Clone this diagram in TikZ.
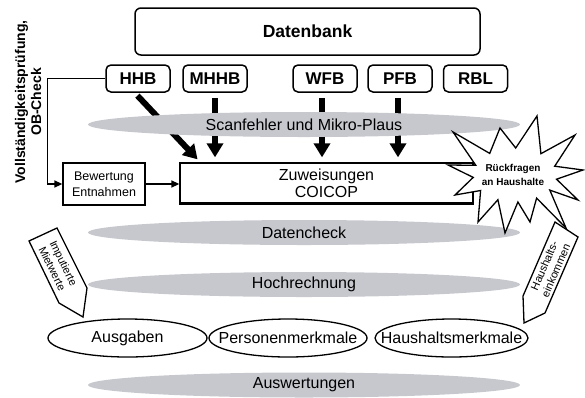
\documentclass[tikz,border=0pt]{standalone}
\usepackage{fontspec}
\setmainfont{Liberation Sans}
\usetikzlibrary{arrows.meta,shapes.geometric,calc}
\definecolor{bandgray}{RGB}{199,200,206}
\begin{document}
\begin{tikzpicture}[x=1pt,y=-1pt,
  rbox/.style={draw, line width=1.5pt, rounded corners=5pt, fill=white, inner sep=0pt,
    minimum width=64pt, minimum height=27pt, font=\fontsize{17}{20}\selectfont\bfseries},
  band/.style={ellipse, fill=bandgray, inner sep=0pt, minimum width=432pt, minimum height=25pt,
    font=\fontsize{16}{19}\selectfont},
  oval/.style={ellipse, draw, line width=1.3pt, fill=white, inner sep=0pt, minimum height=38pt,
    font=\fontsize{16}{19}\selectfont},
  plainbox/.style={draw, line width=1.3pt, fill=white, inner sep=0pt, align=center},
  bigarrow/.style={line width=6pt, -{Triangle[length=14pt,width=16pt]}},
  thinarrow/.style={line width=1.4pt, -{Triangle[length=8pt,width=7pt]}},
  ptr/.style={draw, line width=1.3pt, fill=white, line join=miter},
  ptrtext/.style={align=center, inner sep=0pt, font=\fontsize{11}{12.5}\selectfont},
  starshape/.style={draw, line width=1.3pt, fill=white, line join=miter}
]
\useasboundingbox (0,0) rectangle (585,397);

% top database
\node[draw, line width=1.5pt, rounded corners=6pt, minimum width=345pt, minimum height=47pt,
  inner sep=0pt, font=\fontsize{17.5}{20}\selectfont\bfseries] (db) at (307.5,31.5) {Datenbank};

% sources
\node[rbox] (hhb) at (138,78.5) {HHB};
\node[rbox] (mhhb) at (215,78.5) {MHHB};
\node[rbox] (wfb) at (325,78.5) {WFB};
\node[rbox] (pfb) at (400,78.5) {PFB};
\node[rbox] (rbl) at (475.5,78.5) {RBL};

% main boxes
\node[plainbox, minimum width=293pt, minimum height=40pt, font=\fontsize{16}{17}\selectfont]
  (zuw) at (326.5,183) {Zuweisungen\\COICOP};
\draw[line width=2.6pt] (zuw.south west) -- (zuw.south east);
\node[plainbox, minimum width=82pt, minimum height=42pt, font=\fontsize{12.5}{16}\selectfont]
  (bew) at (104,184) {Bewertung\\Entnahmen};

% thick arrows
\coordinate (hhbs) at (134,92);
\coordinate (hhbe) at (201,163);
\draw[bigarrow, shorten <=5pt, shorten >=5pt] (hhbs) -- (hhbe);
\draw[bigarrow, shorten <=5pt, shorten >=5pt] (mhhb.south) -- (mhhb.south |- zuw.north);
\draw[bigarrow, shorten <=5pt, shorten >=5pt] ([xshift=-3pt]wfb.south) -- ([xshift=-3pt]wfb.south |- zuw.north);
\draw[bigarrow, shorten <=5pt, shorten >=5pt] ([xshift=-2pt]pfb.south) -- ([xshift=-2pt]pfb.south |- zuw.north);

% scan band (over arrows)
\node[band] (scan) at (304,124.5) {Scanfehler und Mikro-Plaus};

% thin connectors
\draw[thinarrow] (hhb.west) -- ++(-58,0) |- (bew.west);
\draw[thinarrow] (bew.east) -- (bew.east -| zuw.west);

% side label
\node[rotate=90, align=center, inner sep=0pt, font=\fontsize{14}{16}\selectfont\bfseries]
  (voll) at (28,102) {Vollständigkeitsprüfung,\\OB-Check};

% bands
\node[band] (dc) at (304,232.5) {Datencheck};
\node[band] (hr) at (304,284.5) {Hochrechnung};
\node[band] (aw) at (304,385) {Auswertungen};

% star
\draw[starshape] (453,132) -- (489.7,153.4) -- (500,128) -- (515.7,148) -- (537,116) -- (540.9,153.7)
  -- (575,135) -- (554.7,166.2) -- (583,170) -- (556.5,179.2) -- (578,200) -- (549.8,190.1)
  -- (566,228) -- (536.6,198.1) -- (530,222) -- (517.9,202) -- (505,233) -- (497.9,199.7)
  -- (478,222) -- (480.6,190.5) -- (455,195) -- (473.2,177.4) -- (448,165) -- (475.8,165.3) -- cycle;
\node[align=center, inner sep=0pt, font=\fontsize{10}{13.5}\selectfont\bfseries]
  (rf) at (513,175) {Rückfragen\\an Haushalte};

% result ovals
\node[oval, minimum width=159pt] (aus) at (127.5,338) {\makebox[0pt]{Ausgaben}};
\node[oval, minimum width=158pt] (pers) at (288,338) {\makebox[0pt]{Personenmerkmale}};
\node[oval, minimum width=153pt] (hh) at (451.5,338) {\makebox[0pt]{Haushaltsmerkmale}};

% pointers
\draw[ptr] (29,241) -- (57,228) -- (87,288) -- (83,317) -- (59,303) -- cycle;
\node[ptrtext, rotate=-64] (imp) at (58,266) {Imputierte\\Mietwerte};
\draw[ptr] (555,222) -- (578,237) -- (545,313) -- (524,323) -- (523,296) -- cycle;
\node[ptrtext, rotate=66.5] (eink) at (550,268) {Haushalts-\\einkommen};
\end{tikzpicture}
\end{document}
